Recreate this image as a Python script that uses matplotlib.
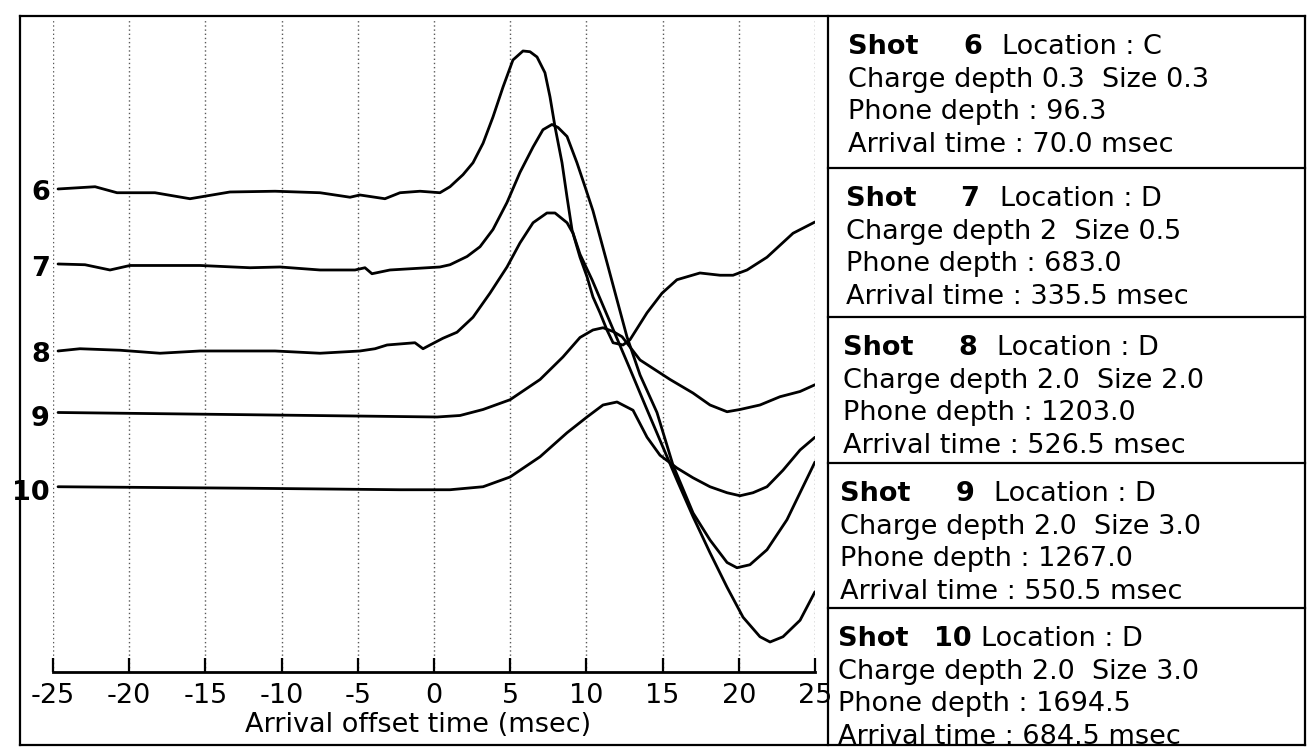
import matplotlib.pyplot as plt
from matplotlib.lines import Line2D

# Figure size in pixels (dpi 100)
W, H = 1311, 748

# Trace data: arrival offset time (msec) and amplitude (in trace spacings)
shots = ['6', '7', '8', '9', '10']
offsets = [0.0, 1.01, 2.16, 3.01, 4.0]

t6 = [-24.67, -22.24, -20.80, -18.31, -16.01, -13.39, -10.43, -7.48, -5.51, -4.86, -3.22, -2.23,
      -0.92, 0.39, 1.05, 1.90, 2.56, 3.22, 3.87, 4.53, 5.18, 5.84, 6.30, 6.76, 7.28, 7.61,
      7.94, 8.40, 8.73, 9.06, 9.58, 10.37, 11.75, 12.86, 13.91, 14.83, 15.94, 17.0, 18.11,
      19.23, 20.28, 21.39, 22.05, 22.90, 24.02, 25.0]
a6 = [0.00, 0.03, -0.05, -0.05, -0.13, -0.04, -0.03, -0.05, -0.11, -0.08, -0.13, -0.05,
      -0.03, -0.05, 0.03, 0.19, 0.35, 0.61, 0.96, 1.36, 1.72, 1.84, 1.83, 1.76, 1.55, 1.23,
      0.83, 0.35, -0.11, -0.55, -0.87, -1.21, -1.87, -2.40, -2.91, -3.35, -3.88, -4.37, -4.85,
      -5.31, -5.71, -5.97, -6.04, -5.97, -5.75, -5.37]

t7 = [-24.67, -22.90, -21.26, -19.95, -15.35, -12.07, -10.10, -7.48, -5.18, -4.53, -4.07, -2.89,
      0.39, 1.05, 2.17, 3.02, 3.87, 4.79, 5.64, 6.50, 7.15, 7.74, 8.14, 8.73, 9.38, 9.91,
      10.43, 11.35, 12.01, 12.66, 13.52, 14.63, 15.68, 17.0, 18.11, 19.23, 19.88, 20.73,
      21.85, 23.16, 24.21, 25.0]
a7 = [0.01, 0.0, -0.07, -0.01, -0.01, -0.04, -0.03, -0.07, -0.07, -0.04, -0.12, -0.07,
      -0.03, 0.0, 0.11, 0.24, 0.47, 0.83, 1.23, 1.57, 1.80, 1.87, 1.83, 1.71, 1.36, 1.04,
      0.72, 0.03, -0.47, -0.96, -1.47, -1.97, -2.67, -3.31, -3.67, -3.97, -4.04, -4.00,
      -3.80, -3.40, -2.96, -2.63]

t8 = [-24.67, -23.23, -20.60, -17.98, -15.35, -10.43, -7.48, -4.86, -3.87, -3.08, -1.25, -0.72,
      -0.26, 0.59, 1.51, 2.56, 3.67, 4.79, 5.64, 6.50, 7.41, 7.94, 8.73, 9.12, 9.58, 10.04,
      10.43, 10.89, 11.35, 11.75, 12.40, 12.86, 13.98, 14.96, 15.94, 17.45, 18.77, 19.62,
      20.54, 21.85, 23.56, 25.0]
a8 = [0.0, 0.03, 0.01, -0.03, 0.0, 0.0, -0.03, 0.0, 0.03, 0.08, 0.11, 0.03,
      0.08, 0.17, 0.25, 0.45, 0.77, 1.12, 1.44, 1.71, 1.84, 1.84, 1.71, 1.57, 1.25, 0.99,
      0.72, 0.51, 0.28, 0.11, 0.08, 0.15, 0.51, 0.77, 0.95, 1.04, 1.01, 1.01,
      1.08, 1.25, 1.57, 1.72]

t9 = [-24.67, -12.07, 0.2, 1.71, 3.22, 4.99, 6.96, 8.46, 9.58, 10.43, 11.09, 11.75, 12.34,
      13.52, 15.49, 16.99, 18.11, 19.23, 20.08, 21.39, 22.70, 24.02, 25.0]
a9 = [0.03, 0.0, -0.03, -0.01, 0.07, 0.20, 0.47, 0.77, 1.03, 1.13, 1.16, 1.11, 1.04,
      0.73, 0.47, 0.29, 0.13, 0.04, 0.07, 0.13, 0.24, 0.31, 0.40]

t10 = [-24.67, -12.07, -2.23, 1.05, 3.22, 4.99, 6.96, 8.73, 10.04, 11.09, 12.01, 13.06,
       13.98, 14.83, 15.94, 16.99, 18.11, 19.23, 20.08, 20.93, 21.85, 22.90, 24.02, 25.0]
a10 = [0.03, 0.01, -0.01, -0.01, 0.03, 0.16, 0.43, 0.75, 0.96, 1.12, 1.16, 1.05,
       0.69, 0.45, 0.28, 0.15, 0.03, -0.05, -0.09, -0.05, 0.03, 0.25, 0.52, 0.69]

times = [t6, t7, t8, t9, t10]
amps = [a6, a7, a8, a9, a10]

# Shot info boxes
locations = ['C', 'D', 'D', 'D', 'D']
charge_depth = ['0.3', '2', '2.0', '2.0', '2.0']
charge_size = ['0.3', '0.5', '2.0', '3.0', '3.0']
phone_depth = ['96.3', '683.0', '1203.0', '1267.0', '1694.5']
arrival_time = ['70.0', '335.5', '526.5', '550.5', '684.5']

xticks = [-25, -20, -15, -10, -5, 0, 5, 10, 15, 20, 25]
xtick_labels = ['-25', '-20', '-15', '-10', '-5', '0', '5', '10', '15', '20', '25']

plt.rcParams['font.family'] = 'DejaVu Sans'


def fx(x):
    return x / W


def fy(y):
    return 1 - y / H


fig = plt.figure(figsize=(W / 100, H / 100), dpi=100)
fig.patch.set_facecolor('white')

# Plot area: x from -25 to 25 msec
ax = fig.add_axes([fx(53), fy(672), 762 / W, 652 / H])
ax.set_xlim(-25, 25)
ax.set_ylim(-6.44, 2.253)

for t, a, off in zip(times, amps, offsets):
    ax.plot(t, [v - off for v in a], color='black', lw=2.0,
            solid_joinstyle='round', solid_capstyle='round')

for lab, off in zip(shots, offsets):
    ax.text(-25.2, -off - 0.06, lab, ha='right', va='center',
            fontsize=19.5, fontweight='bold')

for side in ['left', 'right', 'top']:
    ax.spines[side].set_visible(False)
ax.spines['bottom'].set_linewidth(2.0)

ax.set_xticks(xticks)
ax.set_xticklabels(xtick_labels)
ax.set_yticks([])
ax.tick_params(axis='x', direction='in', length=10, width=1.6, labelsize=19.5, pad=8)
ax.grid(axis='x', linestyle=(0, (1, 2)), color='0.35', lw=1.0)
ax.set_xlabel('Arrival offset time (msec)', fontsize=19.5)
ax.xaxis.set_label_coords((418 - 53) / 762, -0.062)

# Outer frame and info box borders (pixel coords)
frame_lw = 1.6
left, right, top, bottom = 20, 1305, 16, 745
box_left = 828
box_tops = [16, 168, 317, 463, 608]

lines = [
    ([left, right], [top, top]),
    ([left, right], [bottom, bottom]),
    ([left, left], [top, bottom]),
    ([right, right], [top, bottom]),
    ([box_left, box_left], [top, bottom]),
]
for yb in box_tops[1:]:
    lines.append(([box_left, right], [yb, yb]))

for xs, ys in lines:
    fig.add_artist(Line2D([fx(v) for v in xs], [fy(v) for v in ys],
                          color='black', lw=frame_lw))

# Shot description text
fs = 19.5
step = 32.7
for i in range(len(shots)):
    x0 = 848 - 2.5 * i
    y0 = box_tops[i] + 38
    fig.text(fx(x0), fy(y0), 'Shot', fontsize=fs, fontweight='bold', va='baseline')
    num_right = x0 + 134
    fig.text(fx(num_right), fy(y0), shots[i], fontsize=fs, fontweight='bold',
             va='baseline', ha='right')
    gap = 20 if len(shots[i]) == 1 else 9
    fig.text(fx(num_right + gap), fy(y0), 'Location : ' + locations[i],
             fontsize=fs, va='baseline')
    fig.text(fx(x0), fy(y0 + step),
             'Charge depth ' + charge_depth[i] + '  Size ' + charge_size[i],
             fontsize=fs, va='baseline')
    fig.text(fx(x0), fy(y0 + 2 * step), 'Phone depth : ' + phone_depth[i],
             fontsize=fs, va='baseline')
    fig.text(fx(x0), fy(y0 + 3 * step), 'Arrival time : ' + arrival_time[i] + ' msec',
             fontsize=fs, va='baseline')

fig.savefig('out.png', dpi=100, facecolor='white')
